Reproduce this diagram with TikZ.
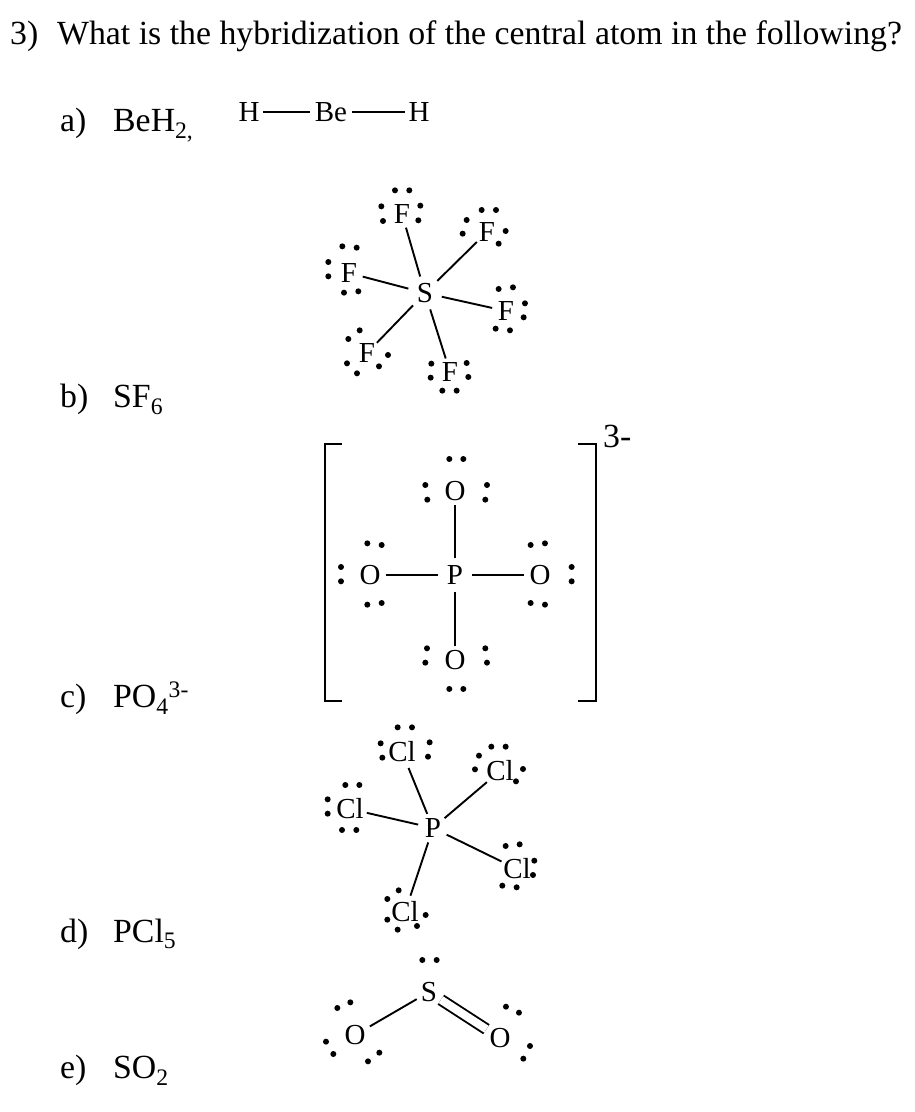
\documentclass[tikz,border=0pt]{standalone}
\usepackage{fontspec}
\setmainfont{Liberation Serif}
\usetikzlibrary{positioning}
\tikzset{
    atom/.style={circle, inner sep=0pt, minimum size=28pt, font=\fontsize{29}{29}\selectfont},
    centre/.style={atom, minimum size=34pt},
    bond/.style={line width=1.9pt},
    label/.style={anchor=base west, inner sep=0pt, font=\fontsize{33.8}{33.8}\selectfont},
    brack/.style={line width=2pt}
}
\newcommand{\elpairs}[3]{%
    \begin{scope}[shift={(#1)},x=0.3333pt,y=-0.3333pt]
        \foreach \a/\b in {#3} \fill (\a,\b) circle (#2);
    \end{scope}}
\newcommand{\tabbed}[2]{\makebox[53pt][l]{#1}#2}
\begin{document}
\begin{tikzpicture}[x=1pt,y=-1pt]
    \useasboundingbox (0,0) rectangle (914,1112);
    % Question and labels
    \node[label] (q3) at (10,44) {\makebox[47pt][l]{3)}What is the hybridization of the central atom in the following?};
    \node[label] (la) at (60,131) {\tabbed{a)}{BeH\textsubscript{2,}}};
    \node[label] (lb) at (60,407) {\tabbed{b)}{SF\textsubscript{6}}};
    \node[label] (lc) at (60,707) {\tabbed{c)}{PO\textsubscript{4}\textsuperscript{3-}}};
    \node[label] (ld) at (60,942) {\tabbed{d)}{PCl\textsubscript{5}}};
    \node[label] (le) at (60,1078) {\tabbed{e)}{SO\textsubscript{2}}};

    % BeH2
    \node[atom] (h1) at (249,112) {H};
    \node[atom, minimum size=42pt] (be) at (331,112) {Be};
    \node[atom] (h2) at (419,112) {H};
    \draw[bond] (h1) -- (be);
    \draw[bond] (be) -- (h2);

    % SF6
    \node[centre] (s) at (425,293) {S};
    \node[atom] (f1) at (402,214) {F};
    \node[atom] (f2) at (487,232) {F};
    \node[atom] (f3) at (349,273) {F};
    \node[atom] (f4) at (506,311) {F};
    \node[atom] (f5) at (367,353) {F};
    \node[atom] (f6) at (450,372) {F};
    \foreach \i in {1,...,6} \draw[bond] (s) -- (f\i);
    \elpairs{300,170}{9}{285/61,328/61,244/109,249/153,361/107,355/151,
        545/120,588/120,500/150,488/191,617/183,596/221,
        127/229,170/233,85/276,85/319,132/368,175/364,
        596/357,639/352,675/400,671/442,587/476,630/481,
        179/481,145/507,141/580,171/610,237/589,264/555,
        394/581,392/623,500/579,505/621,427/662,470/662}

    % PO4
    \node[centre] (p) at (455,575) {P};
    \node[atom] (o1) at (455,491) {O};
    \node[atom] (o2) at (455,660) {O};
    \node[atom, minimum size=32pt] (o3) at (370,575) {O};
    \node[atom, minimum size=32pt] (o4) at (540,575) {O};
    \foreach \i in {1,...,4} \draw[bond] (p) -- (o\i);
    \elpairs{310,430}{9}{418/87,460/87,346/165,352/209,531/165,526/209,
        172/340,215/345,93/411,93/454,172/524,215/519,
        662/345,705/340,785/411,785/454,662/519,705/524,
        351/655,346/698,526/655,531/698,418/777,460/777}
    \draw[brack] (342,444) -- (325,444) -- (325,701) -- (342,701);
    \draw[brack] (578,444) -- (596,444) -- (596,701) -- (578,701);
    \node[label] (chg) at (603,447) {3-};

    % PCl5
    \node[centre, minimum size=30pt] (pc) at (433,828) {P};
    \node[atom, minimum size=30pt] (c1) at (402,752) {Cl};
    \node[atom, minimum size=34pt] (c2) at (500,771) {Cl};
    \node[atom, minimum size=34pt] (c3) at (350,809) {Cl};
    \node[atom, minimum size=34pt] (c4) at (517,869) {Cl};
    \node[atom, minimum size=30pt] (c5) at (405,912) {Cl};
    \foreach \i in {1,...,5} \draw[bond] (pc) -- (c\i);
    \elpairs{310,715}{9}{263/37,306/37,212/85,217/128,359/82,354/125,
        544/95,587/95,507/122,495/163,639/162,618/199,
        106/210,148/210,53/253,53/296,96/345,139/345,
        587/393,629/388,673/437,669/480,577/512,620/517,
        266/526,232/552,232/614,263/644,321/633,347/600}

    % SO2
    \node[atom] (s2) at (429,992) {S};
    \node[atom, minimum size=34pt] (o5) at (355,1035) {O};
    \node[atom, minimum size=32pt] (o6) at (500,1038) {O};
    \draw[bond] (s2) -- (o5);
    \draw[bond, double, double distance=8.1pt] (s2) -- (o6);
    \elpairs{310,945}{9}{337/45,380/45,82/189,121/172,48/290,70/327,174/349,208/323,
        588/185,627/203,660/303,640/341}
\end{tikzpicture}
\end{document}
